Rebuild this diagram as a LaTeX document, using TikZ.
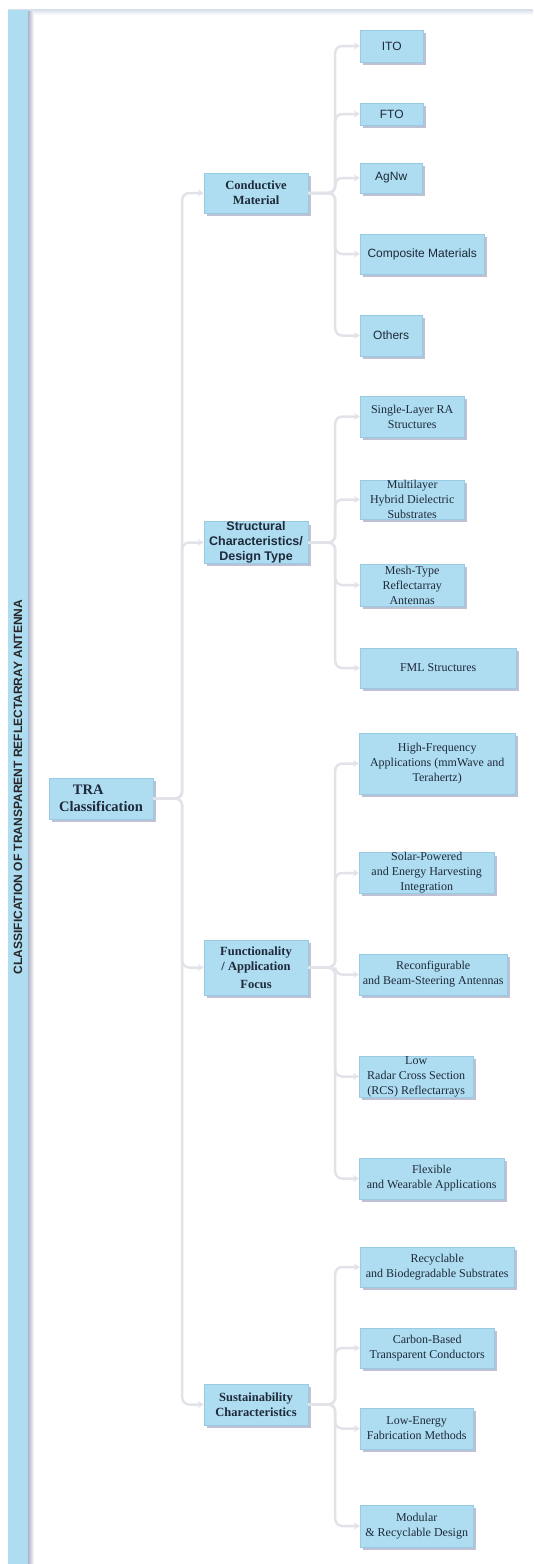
\documentclass[tikz,border=0pt]{standalone}
\usepackage{fontspec}
\setmainfont{Liberation Serif}
\setsansfont{Liberation Sans}
\usetikzlibrary{arrows.meta,shadows}

\definecolor{boxblue}{RGB}{174,220,240}
\definecolor{boxedge}{RGB}{152,202,228}
\definecolor{shade}{RGB}{172,178,200}
\definecolor{linkgray}{RGB}{226,226,233}
\definecolor{inkblue}{RGB}{30,42,58}
\definecolor{rulegray}{RGB}{216,222,234}

\tikzset{
  cat/.style={draw=boxedge, line width=0.4pt, fill=boxblue, text=inkblue, align=center,
    inner xsep=2pt, inner ysep=0pt,
    drop shadow={shadow xshift=3pt, shadow yshift=-3pt, fill=shade, opacity=0.8}},
  mid/.style={cat, minimum width=104pt, font=\fontsize{12.5}{15}\selectfont\bfseries},
  leaf/.style={cat, anchor=west, font=\fontsize{12}{15}\selectfont},
  conn/.style={linkgray, line width=2.5pt, rounded corners=7pt, -{Stealth[length=6pt,width=7pt]}},
}

\begin{document}
\begin{tikzpicture}[x=1pt, y=-1pt]
    \useasboundingbox (0,0) rectangle (533,1564);

    % Side bar with the title
    \fill[rulegray] (8,9) rectangle (533,11.5);
    \shade[top color=rulegray!60, bottom color=white] (28,11.5) rectangle (533,15);
    \fill[boxblue] (8,10) rectangle (28,1564);
    \shade[left color=shade, right color=white] (28,11) rectangle (34,1564);
    \node[rotate=90, font=\sffamily\bfseries\fontsize{12}{14}\selectfont, text=black!85] (title) at (18,787)
        {CLASSIFICATION OF TRANSPARENT REFLECTARRAY ANTENNA};

    % Root and main categories
    \node[mid, minimum height=41pt, align=left, font=\fontsize{14.5}{16.5}\selectfont\bfseries] (tra) at (101,798.5)
        {\hspace*{0.95em}TRA\\Classification};
    \node[mid, minimum height=40pt] (cond) at (256,193) {Conductive\\Material};
    \node[mid, minimum height=41pt, font=\sffamily\fontsize{12.5}{15}\selectfont\bfseries] (struc) at (256,542.5)
        {Structural\\Characteristics/\\Design Type};
    \node[mid, minimum height=55pt] (func) at (256,967.5) {Functionality\\/ Application\\[3pt]Focus};
    \node[mid, minimum height=41pt] (sust) at (256,1404.5) {Sustainability\\Characteristics};

    % Conductive material
    \foreach \n/\y/\w/\h/\t in {ito/46/63/32/ITO, fto/114/63/22/FTO, agnw/178/62/30/AgNw,
        comp/254/124/40/Composite Materials, oth/335.5/62/41/Others}
        \node[leaf, font=\sffamily\fontsize{12}{15}\selectfont, minimum width=\w pt, minimum height=\h pt] (\n) at (360,\y) {\t};

    % Structural characteristics
    \foreach \n/\y/\w/\h/\t in {sl/416.5/104/41/{Single-Layer RA\\Structures},
        ml/499.5/104/39/{Multilayer\\Hybrid Dielectric\\Substrates},
        mesh/585/104/42/{Mesh-Type\\Reflectarray\\Antennas},
        fml/668/156/40/{FML Structures}}
        \node[leaf, minimum width=\w pt, minimum height=\h pt] (\n) at (360,\y) {\t};

    % Functionality / application
    \foreach \n/\y/\w/\h/\t in {hf/763.5/156/61/{High-Frequency\\Applications (mmWave and\\Terahertz)},
        solar/873/135/40/{Solar-Powered\\and Energy Harvesting\\Integration},
        reconf/974.5/148/41/{Reconfigurable\\and Beam-Steering Antennas},
        rcs/1076.5/114/41/{Low\\Radar Cross Section\\(RCS) Reflectarrays},
        flex/1178.5/145/41/{Flexible\\and Wearable Applications}}
        \node[leaf, minimum width=\w pt, minimum height=\h pt] (\n) at (359,\y) {\t};

    % Sustainability
    \foreach \n/\y/\w/\h/\t in {recyc/1267/154/40/{Recyclable\\and Biodegradable Substrates},
        carbon/1348/134/40/{Carbon-Based\\Transparent Conductors},
        lowen/1428.5/113/41/{Low-Energy\\Fabrication Methods},
        modular/1526/113/42/{Modular\\\& Recyclable Design}}
        \node[leaf, minimum width=\w pt, minimum height=\h pt] (\n) at (360,\y) {\t};

    % Connectors
    \foreach \c in {cond,struc,func,sust}
        \draw[conn] (tra.east) -- ++(29,0) |- (\c.west);
    \foreach \c in {ito,fto,agnw,comp,oth}
        \draw[conn] (cond.east) -- ++(27,0) |- (\c.west);
    \foreach \c in {sl,ml,mesh,fml}
        \draw[conn] (struc.east) -- ++(27,0) |- (\c.west);
    \foreach \c in {hf,solar,reconf,rcs,flex}
        \draw[conn] (func.east) -- ++(27,0) |- (\c.west);
    \foreach \c in {recyc,carbon,lowen,modular}
        \draw[conn] (sust.east) -- ++(27,0) |- (\c.west);
\end{tikzpicture}
\end{document}
